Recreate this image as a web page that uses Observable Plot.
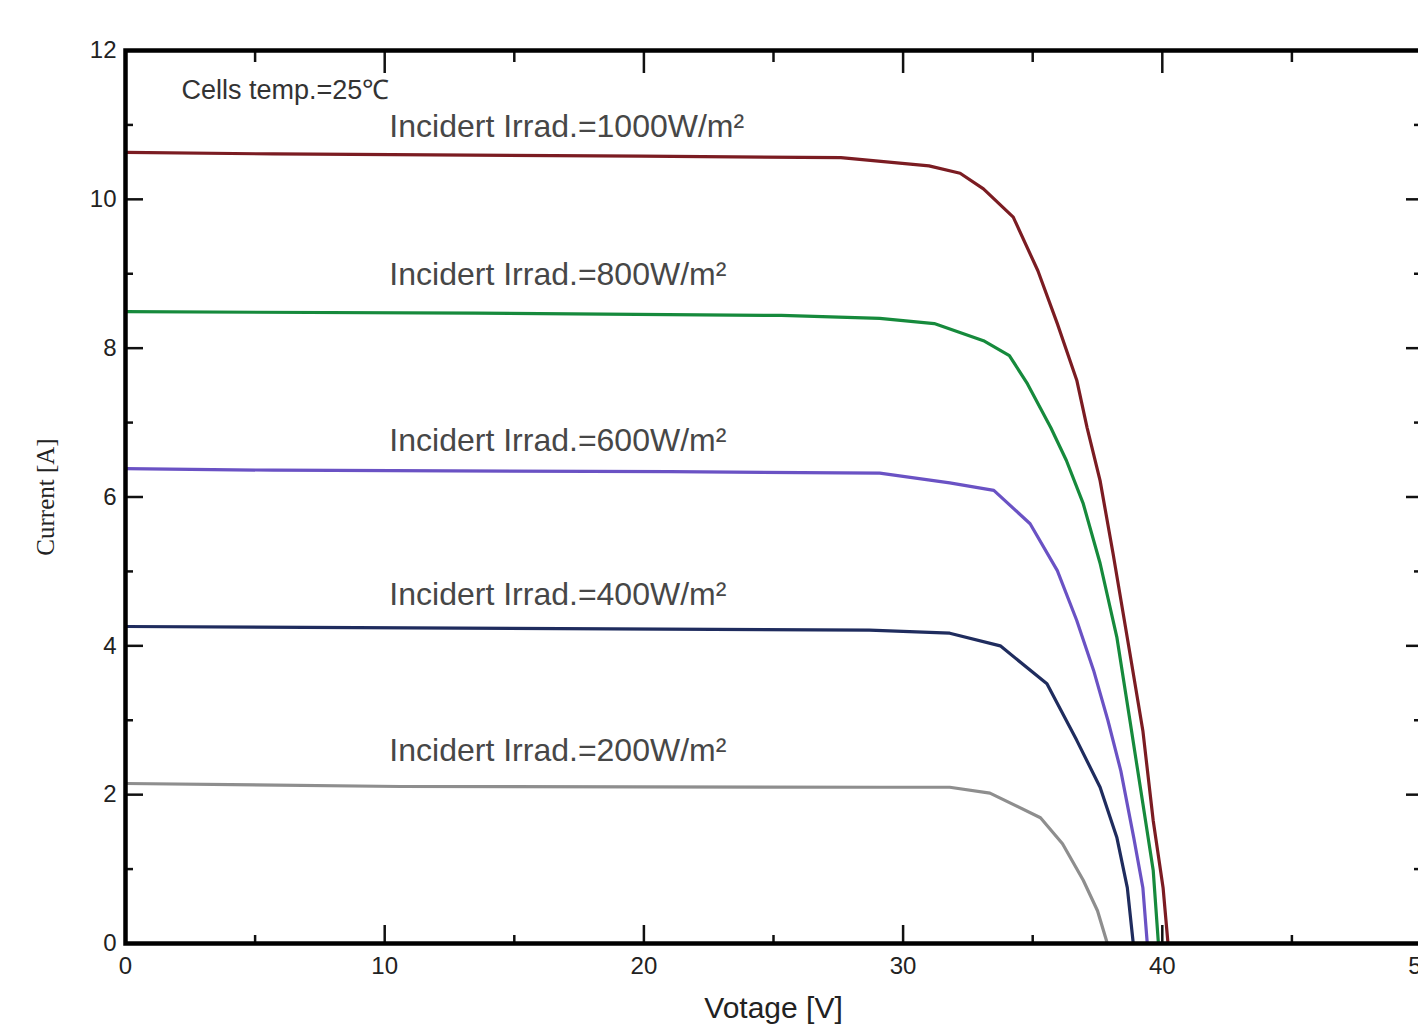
<!DOCTYPE html>
<html><head><meta charset="utf-8">
<script src="https://cdn.jsdelivr.net/npm/d3@7"></script>
<script src="https://cdn.jsdelivr.net/npm/@observablehq/plot@0.6"></script>
<style>html,body{margin:0;padding:0;overflow:hidden;background:#fff;width:1418px;height:1025px}#chart svg{max-width:none !important;display:block}</style>
</head><body><div id="chart"></div>
<script>
// I-V curves (Voltage [V], Current [A])
const v1000 = [0, 5.7, 19.9, 27.6, 31.0, 32.2, 33.1, 34.25, 35.2, 35.95, 36.7, 37.1, 37.6, 38.1, 38.75, 39.25, 39.65, 40.03, 40.22];
const i1000 = [10.63, 10.61, 10.58, 10.56, 10.45, 10.35, 10.14, 9.76, 9.04, 8.33, 7.57, 6.93, 6.22, 5.24, 3.9, 2.86, 1.65, 0.75, 0];
const v800 = [0, 13.5, 25.3, 29.1, 31.2, 33.1, 34.1, 34.8, 35.7, 36.3, 36.95, 37.6, 38.25, 38.75, 39.25, 39.65, 39.85];
const i800 = [8.49, 8.47, 8.44, 8.4, 8.33, 8.1, 7.9, 7.52, 6.93, 6.49, 5.91, 5.11, 4.11, 3.0, 1.88, 0.98, 0];
const v600 = [0, 5.7, 21.0, 29.1, 31.8, 33.5, 34.9, 35.95, 36.7, 37.35, 37.9, 38.4, 38.9, 39.25, 39.42];
const i600 = [6.38, 6.36, 6.34, 6.32, 6.19, 6.09, 5.64, 5.01, 4.34, 3.67, 3.0, 2.32, 1.42, 0.75, 0];
const v400 = [0, 16.8, 28.7, 31.8, 33.75, 35.55, 36.7, 37.6, 38.25, 38.65, 38.88];
const i400 = [4.26, 4.23, 4.21, 4.17, 4.0, 3.49, 2.73, 2.1, 1.42, 0.75, 0];
const v200 = [0, 10.6, 29.1, 31.8, 33.35, 35.3, 36.15, 36.95, 37.5, 37.88];
const i200 = [2.15, 2.11, 2.1, 2.1, 2.02, 1.69, 1.34, 0.85, 0.44, 0];

const seriesNames = ["1000", "800", "600", "400", "200"];
const seriesColors = ["#7b1c22", "#168a3c", "#6a52c4", "#1f2c5e", "#8e8e8e"];
const seriesV = [v1000, v800, v600, v400, v200];
const seriesI = [i1000, i800, i600, i400, i200];

const labelTexts = ["Incidert Irrad.=1000W/m²", "Incidert Irrad.=800W/m²", "Incidert Irrad.=600W/m²", "Incidert Irrad.=400W/m²", "Incidert Irrad.=200W/m²"];
const labelV = [10.18, 10.18, 10.18, 10.18, 10.18];
const labelI = [10.98, 8.98, 6.76, 4.68, 2.59];
const noteText = ["Cells temp.=25℃"];
const noteV = [2.16];
const noteI = [11.46];

const xMajor = [0, 10, 20, 30, 40, 50];
const xMinor = [5, 15, 25, 35, 45];
const yMajor = [0, 2, 4, 6, 8, 10, 12];
const yMinor = [1, 3, 5, 7, 9, 11];

const rows = seriesNames.flatMap((n, s) => seriesV[s].map((v, k) => ({series: n, V: v, I: seriesI[s][k]})));
const labels = labelTexts.map((t, k) => ({t, V: labelV[k], I: labelI[k]}));
const notes = noteText.map((t, k) => ({t, V: noteV[k], I: noteI[k]}));

const tickStyle = {label: null, fill: "none", stroke: "#111", strokeWidth: 2.5};
const fmt = d => String(d);

const chart = Plot.plot({
  width: 1440, height: 1025,
  marginLeft: 125, marginRight: 19, marginTop: 50, marginBottom: 82,
  x: {domain: [0, 50]},
  y: {domain: [0, 12]},
  color: {domain: seriesNames, range: seriesColors},
  style: {fontFamily: "'Liberation Sans', Arial, sans-serif", background: "white", color: "#222"},
  marks: [
    Plot.line(rows, {x: "V", y: "I", z: "series", stroke: "series", strokeWidth: 3.2}),
    Plot.text(labels, {x: "V", y: "I", text: "t", textAnchor: "start", lineAnchor: "middle", fontSize: 32, fill: "#474747"}),
    Plot.text(notes, {x: "V", y: "I", text: "t", textAnchor: "start", lineAnchor: "middle", fontSize: 27, fill: "#333"}),
    // tick labels
    Plot.axisX(xMajor, {anchor: "bottom", tickSize: 0, tickPadding: 13, fontSize: 24, label: null, fill: "#222", tickFormat: fmt}),
    Plot.axisY(yMajor, {anchor: "left", tickSize: 0, tickPadding: 9, fontSize: 24, label: null, fill: "#222", tickFormat: fmt}),
    // inward ticks
    Plot.axisX(xMajor, {...tickStyle, anchor: "bottom", tickSize: -18}),
    Plot.axisX(xMinor, {...tickStyle, anchor: "bottom", tickSize: -8}),
    Plot.axisX(xMajor, {...tickStyle, anchor: "top", tickSize: -22}),
    Plot.axisX(xMinor, {...tickStyle, anchor: "top", tickSize: -11}),
    Plot.axisY(yMajor, {...tickStyle, anchor: "left", tickSize: -18}),
    Plot.axisY(yMinor, {...tickStyle, anchor: "left", tickSize: -8}),
    Plot.axisY(yMajor, {...tickStyle, anchor: "right", tickSize: -16}),
    Plot.axisY(yMinor, {...tickStyle, anchor: "right", tickSize: -8}),
    Plot.frame({stroke: "#000", strokeWidth: 4.5}),
    // axis titles
    Plot.text(["Votage [V]"], {frameAnchor: "bottom", dy: 65, text: d => d, fontSize: 30, fill: "#222", textAnchor: "middle", lineAnchor: "middle"}),
    Plot.text(["Current [A]"], {frameAnchor: "left", dx: -80, rotate: -90, text: d => d, fontSize: 25, fill: "#222", fontFamily: "'Liberation Serif', 'Times New Roman', serif", textAnchor: "middle", lineAnchor: "middle"})
  ]
});
chart.style.maxWidth = "none";
document.getElementById("chart").appendChild(chart);
</script>
</body></html>
